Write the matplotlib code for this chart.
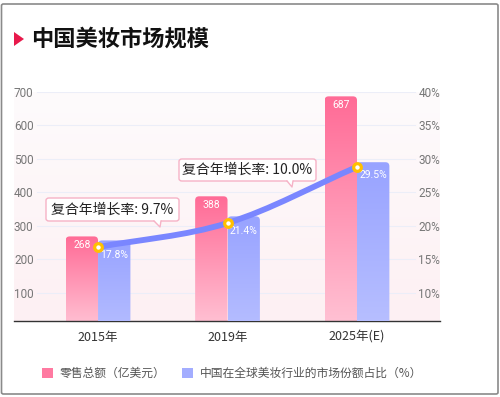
import numpy as np
import matplotlib
matplotlib.use('Agg')
import matplotlib.pyplot as plt
from matplotlib.patches import FancyBboxPatch, Rectangle, Polygon, PathPatch
from matplotlib.path import Path
from matplotlib.colors import LinearSegmentedColormap
from matplotlib.lines import Line2D

plt.rcParams['font.family'] = ['Noto Sans CJK SC', 'DejaVu Sans']

# ---------------- data ----------------
categories = ['2015年', '2019年', '2025年(E)']
retail = [268, 388, 687]                 # 零售总额（亿美元）
share = [17.8, 21.4, 29.5]               # 市场份额占比（%）
trend = [16.8, 20.4, 28.8]               # curve points as drawn (right axis, %)
cagr_labels = ['复合年增长率: 9.7%', '复合年增长率: 10.0%']
left_ticks = [100, 200, 300, 400, 500, 600, 700]
right_ticks = [10, 15, 20, 25, 30, 35, 40]
title = '中国美妆市场规模'
legend_labels = ['零售总额（亿美元）', '中国在全球美妆行业的市场份额占比（%）']

W, H = 500, 397
fig = plt.figure(figsize=(W / 100, H / 100), dpi=100)
fig.patch.set_facecolor('white')


def fx(px):
    return px / W


def fy(py):
    return 1 - py / H


AX_L, AX_R, AX_T, AX_B = 14, 440, 92, 321
ax = fig.add_axes([fx(AX_L), fy(AX_B), (AX_R - AX_L) / W, (AX_B - AX_T) / H])
ax.set_facecolor('none')
ax2 = ax.twinx()

xlim = (-0.649, 2.641)
ylim = (15, 700)
y2lim = (5.75, 40)

PINK_TOP, PINK_BOT = '#ff6b96', '#ffc2d4'
BLUE_TOP, BLUE_BOT = '#98a3ff', '#bec5ff'
pink_cmap = LinearSegmentedColormap.from_list('p', [PINK_BOT, PINK_TOP])
blue_cmap = LinearSegmentedColormap.from_list('b', [BLUE_BOT, BLUE_TOP])
bg_cmap = LinearSegmentedColormap.from_list('bg', ['#fdf0f3', '#fefbfc'])

grad = np.linspace(0, 1, 256).reshape(-1, 1)

# background gradient
ax.imshow(grad, extent=[xlim[0], xlim[1], ylim[0], ylim[1]], origin='lower',
          cmap=bg_cmap, aspect='auto', zorder=0)

# grid lines
for t in left_ticks:
    ax.axhline(t, xmin=(37 - AX_L) / (AX_R - AX_L), xmax=(415 - AX_L) / (AX_R - AX_L),
               color='#eceef8', lw=0.8, zorder=0.5)

bw = 0.25
px_w = AX_R - AX_L
px_h = AX_B - AX_T


def grad_bar(axis, x0, w, h, lims, cmap, r_px=4):
    dx = (xlim[1] - xlim[0]) / px_w
    dy = (lims[1] - lims[0]) / px_h
    r = r_px * dx
    patch = FancyBboxPatch((x0, 0), w, h, boxstyle=f'round,pad=0,rounding_size={r}',
                           mutation_aspect=dy / dx, facecolor='none', edgecolor='none',
                           transform=axis.transData)
    axis.add_patch(patch)
    im = axis.imshow(grad, extent=[x0, x0 + w, 0, h], origin='lower', cmap=cmap,
                     aspect='auto', zorder=2, interpolation='bilinear')
    im.set_clip_path(patch)


for i, v in enumerate(retail):
    grad_bar(ax, i - bw, bw, v, ylim, pink_cmap)
for i, s in enumerate(share):
    grad_bar(ax2, i, bw, s, y2lim, blue_cmap)

ax.set_xlim(*xlim)
ax.set_ylim(*ylim)
ax2.set_ylim(*y2lim)
ax2.set_xlim(*xlim)

# value labels
for i, v in enumerate(retail):
    ax.annotate(str(v), (i - bw / 2, v), xytext=(0, -9), textcoords='offset pixels',
                ha='center', va='center', color='white', fontsize=7.5,
                family=['Roboto', 'DejaVu Sans'], zorder=4)
for i, (s, t) in enumerate(zip(share, trend)):
    ax2.annotate(f'{s}%', (i + bw / 2, t), xytext=(0, -8), textcoords='offset pixels',
                 ha='center', va='center', color='white', fontsize=7.5,
                 family=['Roboto', 'DejaVu Sans'], zorder=4)

# smooth curve (cubic Bezier through the points)
P = np.array([[i, t] for i, t in enumerate(trend)], dtype=float)
n = len(P)
T = np.zeros_like(P)
for i in range(n):
    if i == 0:
        T[i] = P[1] - P[0]
    elif i == n - 1:
        T[i] = P[-1] - P[-2]
    else:
        T[i] = (P[i + 1] - P[i - 1]) / 2
verts = [tuple(P[0])]
codes = [Path.MOVETO]
for i in range(n - 1):
    verts += [tuple(P[i] + T[i] / 3), tuple(P[i + 1] - T[i + 1] / 3), tuple(P[i + 1])]
    codes += [Path.CURVE4] * 3
ax2.add_patch(PathPatch(Path(verts, codes), facecolor='none', edgecolor='#7a86ff',
                        lw=4.2, capstyle='round', zorder=5))
ax2.plot(range(n), trend, 'o', ms=5.5, mfc='white', mec='#ffc000', mew=2.3, zorder=6)

# axes styling
for s in ['top', 'left', 'right']:
    ax.spines[s].set_visible(False)
    ax2.spines[s].set_visible(False)
ax2.spines['bottom'].set_visible(False)
ax.spines['bottom'].set_color('#333333')
ax.spines['bottom'].set_linewidth(1.0)
ax.spines['bottom'].set_zorder(5)

ax.set_xticks(range(len(categories)))
ax.set_xticklabels(categories)
ax.tick_params(axis='x', length=0, pad=7, labelsize=9, labelcolor='#333333')

ax.set_yticks(left_ticks)
ax.set_yticklabels([str(t) for t in left_ticks])
ax.tick_params(axis='y', length=0, pad=0, labelsize=8.5, labelcolor='#777777')
for lab in ax.get_yticklabels():
    lab.set_ha('left')
    lab.set_family(['Roboto', 'DejaVu Sans'])

ax2.set_yticks(right_ticks)
ax2.set_yticklabels([f'{t}%' for t in right_ticks])
ax2.tick_params(axis='y', length=0, pad=0, labelsize=8.5, labelcolor='#777777')
for lab in ax2.get_yticklabels():
    lab.set_ha('right')
    lab.set_family(['Roboto', 'DejaVu Sans'])

# callout boxes
def callout(x0, y0, x1, y1, ptr, text):
    box = FancyBboxPatch((fx(x0), fy(y1)), (x1 - x0) / W, (y1 - y0) / H,
                         boxstyle='round,pad=0,rounding_size=0.006',
                         transform=fig.transFigure, facecolor='white',
                         edgecolor='#f6b2c6', lw=1.0, zorder=10)
    fig.add_artist(box)
    (bx0, bx1, tipx, tipy) = ptr
    tri = Polygon([(fx(bx0), fy(y1 - 1)), (fx(bx1), fy(y1 - 1)), (fx(tipx), fy(tipy))],
                  closed=True, transform=fig.transFigure, facecolor='white',
                  edgecolor='none', zorder=11)
    fig.add_artist(tri)
    fig.add_artist(Line2D([fx(bx0), fx(tipx), fx(bx1)], [fy(y1), fy(tipy), fy(y1)],
                          transform=fig.transFigure, color='#f6b2c6', lw=1.0, zorder=12))
    fig.text(fx((x0 + x1) / 2), fy((y0 + y1) / 2), text, ha='center', va='center',
             fontsize=10, color='#222222', zorder=13)


callout(46, 198, 179, 221, (154, 161, 160, 227), cagr_labels[0])
callout(179, 159, 316, 181, (287, 293, 292, 187), cagr_labels[1])

# title
fig.add_artist(Polygon([(fx(14), fy(32)), (fx(14), fy(46)), (fx(24), fy(39))],
                       closed=True, transform=fig.transFigure, facecolor='#e8194b',
                       edgecolor='none'))
fig.text(fx(31), fy(39), title, ha='left', va='center', fontsize=16,
         fontweight='bold', color='#111111')

# legend
fig.add_artist(Rectangle((fx(42), fy(378)), 11 / W, 10 / H, transform=fig.transFigure,
                         facecolor='#ff7aa1', edgecolor='none'))
fig.text(fx(60), fy(373), legend_labels[0], ha='left', va='center', fontsize=8.5,
         color='#555555')
fig.add_artist(Rectangle((fx(182), fy(378)), 11 / W, 10 / H, transform=fig.transFigure,
                         facecolor='#a3adff', edgecolor='none'))
fig.text(fx(200), fy(373), legend_labels[1], ha='left', va='center', fontsize=8.5,
         color='#555555')

# outer frame
fig.add_artist(FancyBboxPatch((fx(1.5), fy(394)), 496.5 / W, 390 / H,
                              boxstyle='round,pad=0,rounding_size=0.004',
                              transform=fig.transFigure, facecolor='none',
                              edgecolor='#8a8a8a', lw=1.2))

fig.savefig('out.png', dpi=100)
